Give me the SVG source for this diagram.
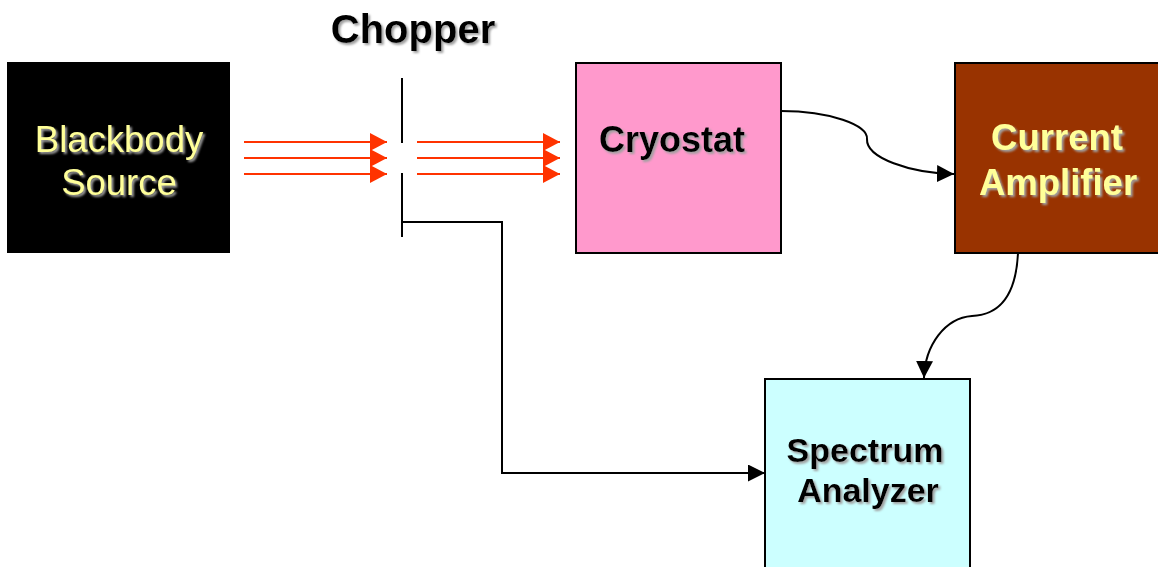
<svg xmlns="http://www.w3.org/2000/svg" width="1158" height="567" viewBox="0 0 1158 567">
<style>
.box{stroke:#000;stroke-width:2}
.lbl{font-family:"Liberation Sans",Arial,sans-serif;font-weight:bold;text-anchor:middle;filter:url(#sh)}
.reg{font-weight:normal}
.ray{stroke:#FF3300;stroke-width:2;fill:none;marker-end:url(#ra)}
.wire{stroke:#000;stroke-width:2;fill:none}
</style>
<defs>
<filter id="sh" x="-10%" y="-20%" width="130%" height="150%">
<feDropShadow dx="2" dy="2" stdDeviation="0.8" flood-color="#A0A0A0" flood-opacity="1"/>
</filter>
<marker id="ra" markerUnits="userSpaceOnUse" markerWidth="20" markerHeight="20" refX="17" refY="9" orient="auto">
<path d="M0,0 L17,9 L0,18 Z" fill="#FF3300"/>
</marker>
<marker id="ka" markerUnits="userSpaceOnUse" markerWidth="20" markerHeight="20" refX="17" refY="8.5" orient="auto">
<path d="M0,0 L17,8.5 L0,17 Z" fill="#000"/>
</marker>
</defs>
<rect width="1158" height="567" fill="#fff"/>

<g id="blackbody">
<rect x="7" y="62" width="223" height="191" fill="#000"/>
<text class="lbl reg" x="119" y="152" font-size="36.5" fill="#FFFF99">Blackbody</text>
<text class="lbl reg" x="119" y="195" font-size="36.5" fill="#FFFF99">Source</text>
</g>

<g id="chopper">
<text class="lbl" x="413" y="43" font-size="40" fill="#000">Chopper</text>
<line x1="402" y1="78" x2="402" y2="143" class="wire"/>
<line x1="402" y1="173" x2="402" y2="237" class="wire"/>
</g>

<g id="cryostat">
<rect class="box" x="576" y="63" width="205" height="190" fill="#FF99CC"/>
<text class="lbl" x="672" y="152" font-size="36" fill="#000">Cryostat</text>
</g>

<g id="amplifier">
<rect class="box" x="955" y="63" width="206" height="190" fill="#993300"/>
<text class="lbl" x="1057" y="150" font-size="36.5" fill="#FFFF99">Current</text>
<text class="lbl" x="1058" y="195" font-size="36.5" fill="#FFFF99">Amplifier</text>
</g>

<g id="analyzer">
<rect class="box" x="765" y="379" width="205" height="200" fill="#CCFFFF"/>
<text class="lbl" x="865" y="462" font-size="34" fill="#000">Spectrum</text>
<text class="lbl" x="868" y="502" font-size="34" fill="#000">Analyzer</text>
</g>

<g id="connectors">
<line class="ray" x1="244" y1="142" x2="387" y2="142"/>
<line class="ray" x1="244" y1="158" x2="387" y2="158"/>
<line class="ray" x1="244" y1="174" x2="387" y2="174"/>
<line class="ray" x1="417" y1="142" x2="560" y2="142"/>
<line class="ray" x1="417" y1="158" x2="560" y2="158"/>
<line class="ray" x1="417" y1="174" x2="560" y2="174"/>
<path class="wire" d="M781,111 C830,111 868,125 867,139 C866,158 910,173 954,174" marker-end="url(#ka)"/>
<path class="wire" d="M1018,253 C1016,295 1000,315 972,316 C945,318 925,345 924,378" marker-end="url(#ka)"/>
<path class="wire" d="M402,222 L502,222 L502,473 L765,473" marker-end="url(#ka)"/>
</g>
</svg>
